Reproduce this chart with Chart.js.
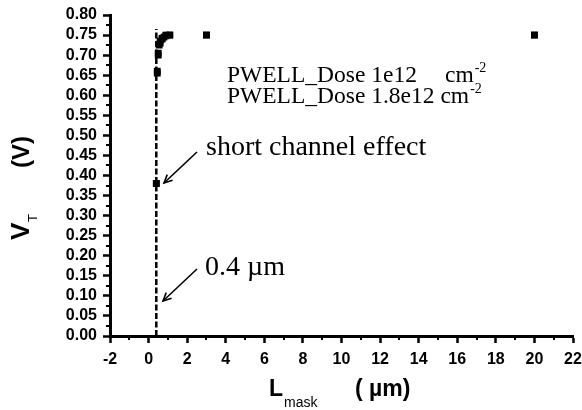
<!DOCTYPE html>
<html>
<head>
<meta charset="utf-8">
<script src="https://cdn.jsdelivr.net/npm/chart.js@4.4.1/dist/chart.umd.min.js"></script>
<style>
  html, body { margin: 0; padding: 0; background: #fff; }
  #wrap { width: 582px; height: 410px; }
</style>
</head>
<body>
<div id="wrap"><canvas id="c" width="582" height="410"></canvas></div>
<script>
// Threshold voltage vs. drawn gate length, two P-well doses
const lengthsLow  = [0.4, 0.45, 0.5, 0.55, 0.6, 0.7, 0.9, 1.1, 3, 20];
const vtLow       = [0.38, 0.66, 0.705, 0.725, 0.735, 0.742, 0.748, 0.75, 0.75, 0.75];
const lengthsHigh = [0.4, 0.45, 0.5, 0.6, 0.7, 0.8, 0.9, 1.1, 3, 20];
const vtHigh      = [0.38, 0.655, 0.70, 0.73, 0.74, 0.745, 0.75, 0.75, 0.75, 0.75];
// 0.4 µm marker line
const markerX = [0.4, 0.4];
const markerY = [0, 0.765];
// axis ranges and tick steps
const xRange = [-2, 22], xMajor = 2, xMinor = 1;
const yRange = [0, 0.8], yMajor = 0.05;

const pts = (xs, ys) => xs.map((x, i) => ({ x, y: ys[i] }));
const SANS = '"Liberation Sans", Arial, sans-serif';
const SERIF = '"Liberation Serif", "Times New Roman", serif';

// minor ticks, axis titles, annotations and arrows
const decor = {
  id: 'decor',
  afterDraw(chart) {
    const ctx = chart.ctx;
    const xs = chart.scales.x, ys = chart.scales.y;
    const area = chart.chartArea;
    ctx.save();
    ctx.strokeStyle = '#000';
    ctx.lineWidth = 2;
    // minor x ticks
    for (let v = xRange[0] + xMinor; v < xRange[1]; v += xMajor) {
      const px = Math.round(xs.getPixelForValue(v));
      ctx.beginPath(); ctx.moveTo(px, area.bottom); ctx.lineTo(px, area.bottom + 4); ctx.stroke();
    }
    // minor y ticks
    for (let v = yRange[0] + yMajor / 2; v < yRange[1]; v += yMajor) {
      const py = Math.round(ys.getPixelForValue(v));
      ctx.beginPath(); ctx.moveTo(area.left, py); ctx.lineTo(area.left - 4, py); ctx.stroke();
    }

    ctx.fillStyle = '#000';
    ctx.textAlign = 'left';

    // x title
    ctx.textBaseline = 'middle';
    ctx.font = 'bold 23px ' + SANS;
    ctx.fillText('L', 269, 390);
    ctx.font = '14px ' + SANS;
    ctx.fillText('mask', 284, 403);
    ctx.font = 'bold 23px ' + SANS;
    ctx.fillText('( \u00b5m)', 355, 390);

    // y title
    ctx.save();
    ctx.translate(22, 240);
    ctx.rotate(-Math.PI / 2);
    ctx.font = 'bold 26px ' + SANS;
    ctx.fillText('V', 0, 0);
    ctx.font = '13px ' + SANS;
    ctx.fillText('T', 18, 11);
    ctx.font = 'bold 24px ' + SANS;
    ctx.fillText('(V)', 72, 0);
    ctx.restore();

    // dose labels
    ctx.textBaseline = 'alphabetic';
    const sup = (x, y) => {
      ctx.font = '14px ' + SERIF;
      ctx.fillText('-2', x + 1, y - 10);
    };
    ctx.font = '23.5px ' + SERIF;
    ctx.fillText('PWELL_Dose 1e12', 227, 82);
    ctx.fillText('cm', 445, 82);
    sup(445 + ctx.measureText('cm').width, 82);
    ctx.font = '23.5px ' + SERIF;
    const line2 = 'PWELL_Dose 1.8e12 cm';
    ctx.fillText(line2, 227, 103);
    const w2 = ctx.measureText(line2).width;
    sup(227 + w2, 103);

    // callouts
    ctx.font = '28px ' + SERIF;
    ctx.fillText('short channel effect', 206, 155);
    ctx.fillText('0.4 \u00b5m', 205, 275);

    const arrow = (x1, y1, x2, y2) => {
      ctx.lineWidth = 1.6;
      ctx.beginPath(); ctx.moveTo(x1, y1); ctx.lineTo(x2, y2); ctx.stroke();
      const a = Math.atan2(y2 - y1, x2 - x1), L = 9;
      ctx.beginPath();
      ctx.moveTo(x2 - L * Math.cos(a - 0.45), y2 - L * Math.sin(a - 0.45));
      ctx.lineTo(x2, y2);
      ctx.lineTo(x2 - L * Math.cos(a + 0.45), y2 - L * Math.sin(a + 0.45));
      ctx.stroke();
    };
    arrow(197, 152, 164, 183);
    arrow(197, 269, 163, 301);
    ctx.restore();
  }
};

new Chart(document.getElementById('c'), {
  type: 'scatter',
  data: {
    datasets: [
      {
        label: 'PWELL_Dose 1e12',
        data: pts(lengthsLow, vtLow),
        pointStyle: 'rect', pointRadius: 4.8,
        backgroundColor: '#000', borderColor: '#000', borderWidth: 0
      },
      {
        label: 'PWELL_Dose 1.8e12',
        data: pts(lengthsHigh, vtHigh),
        pointStyle: 'rect', pointRadius: 4.8,
        backgroundColor: '#000', borderColor: '#000', borderWidth: 0
      },
      {
        label: '0.4 um',
        data: pts(markerX, markerY),
        showLine: true, pointRadius: 0,
        borderColor: '#000', borderWidth: 2.5, borderDash: [6, 2.5]
      }
    ]
  },
  options: {
    responsive: false,
    animation: false,
    events: [],
    layout: { padding: { left: 0, right: 9, top: 15, bottom: 0 } },
    plugins: { legend: { display: false }, tooltip: { enabled: false } },
    scales: {
      x: {
        type: 'linear', min: xRange[0], max: xRange[1],
        border: { color: '#000', width: 3 },
        grid: { drawOnChartArea: false, color: '#000', tickLength: 7, tickWidth: 2.5 },
        ticks: {
          stepSize: xMajor, color: '#000', padding: 7, autoSkip: false, maxRotation: 0,
          font: { family: SANS, size: 16, weight: 'bold' }
        },
        afterFit(s) { s.height = 74; s.paddingRight = 0; s.paddingLeft = 0; }
      },
      y: {
        type: 'linear', min: yRange[0], max: yRange[1],
        border: { color: '#000', width: 3 },
        grid: { drawOnChartArea: false, color: '#000', tickLength: 7, tickWidth: 2.5 },
        ticks: {
          stepSize: yMajor, color: '#000', padding: 6, autoSkip: false,
          font: { family: SANS, size: 16, weight: 'bold' },
          callback: v => v.toFixed(2)
        },
        afterFit(s) { s.width = 110; s.paddingTop = 0; s.paddingBottom = 0; }
      }
    }
  },
  plugins: [decor]
});
</script>
</body>
</html>
